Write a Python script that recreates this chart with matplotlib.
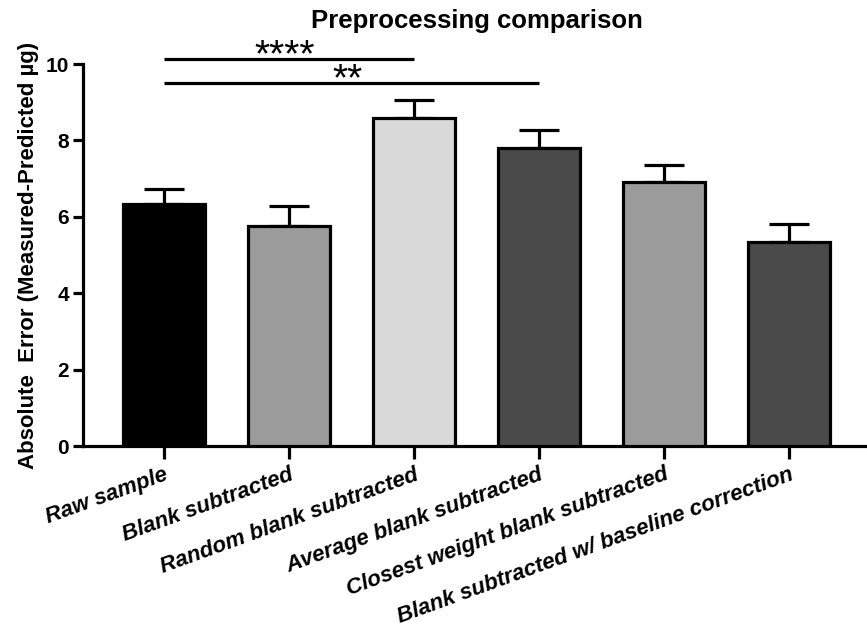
import matplotlib.pyplot as plt
import numpy as np

plt.rcParams['font.family'] = ['Liberation Sans', 'DejaVu Sans']

# data
grupos = ["Raw sample", "Blank subtracted", "Random blank subtracted",
          "Average blank subtracted", "Closest weight blank subtracted",
          "Blank subtracted w/ baseline correction"]
medias = [6.34, 5.75, 8.59, 7.80, 6.92, 5.35]
errores = [0.39, 0.53, 0.47, 0.47, 0.44, 0.47]
colores = ["#000000", "#9b9b9b", "#d9d9d9", "#4a4a4a", "#9b9b9b", "#4a4a4a"]
# significance brackets: (grupo inicio, grupo fin, altura, texto)
sig = [(0, 2, 10.14, "****"), (0, 3, 9.50, "**")]

fig = plt.figure(figsize=(8.67, 6.37), dpi=100)
ax = fig.add_axes([0.0957, 0.2998, 0.9043, 0.5997])

x = np.arange(len(grupos))
lw = 2.3
ax.bar(x, medias, width=0.66, color=colores, edgecolor="black",
       linewidth=lw, zorder=3)
ax.errorbar(x, medias, yerr=[np.zeros(len(errores)), errores], fmt="none",
            ecolor="black", elinewidth=lw, capsize=14.5, capthick=lw, zorder=2)

for a, b, h, txt in sig:
    ax.plot([a, b], [h, h], color="black", lw=lw, clip_on=False,
            solid_capstyle="butt")
    ax.annotate(txt, xy=((a + b) / 2, h), xytext=(-3, -5.5),
                textcoords="offset points", ha="center", va="baseline",
                fontsize=28, annotation_clip=False)

ax.set_xlim(-0.648, 5.624)
ax.set_ylim(0, 10)
ax.set_yticks([0, 2, 4, 6, 8, 10])
ax.set_xticks(x)
ax.set_xticklabels(grupos, rotation=20, ha="right", va="top",
                   rotation_mode="anchor", fontsize=16,
                   fontweight="bold", fontstyle="italic")
for lab in ax.get_yticklabels():
    lab.set_fontweight("bold")
    lab.set_fontsize(15)
ax.tick_params(axis="y", length=7, width=lw, pad=3)
ax.tick_params(axis="x", length=9, width=lw, pad=4)
for s in ["top", "right"]:
    ax.spines[s].set_visible(False)
for s in ["left", "bottom"]:
    ax.spines[s].set_linewidth(lw)

ax.set_ylabel("Absolute  Error (Measured-Predicted µg)", fontsize=16,
              fontweight="bold", labelpad=5)
fig.text(0.55, 0.967, "Preprocessing comparison", ha="center", va="center",
         fontsize=18.5, fontweight="bold")

fig.savefig("out.png", dpi=100)
